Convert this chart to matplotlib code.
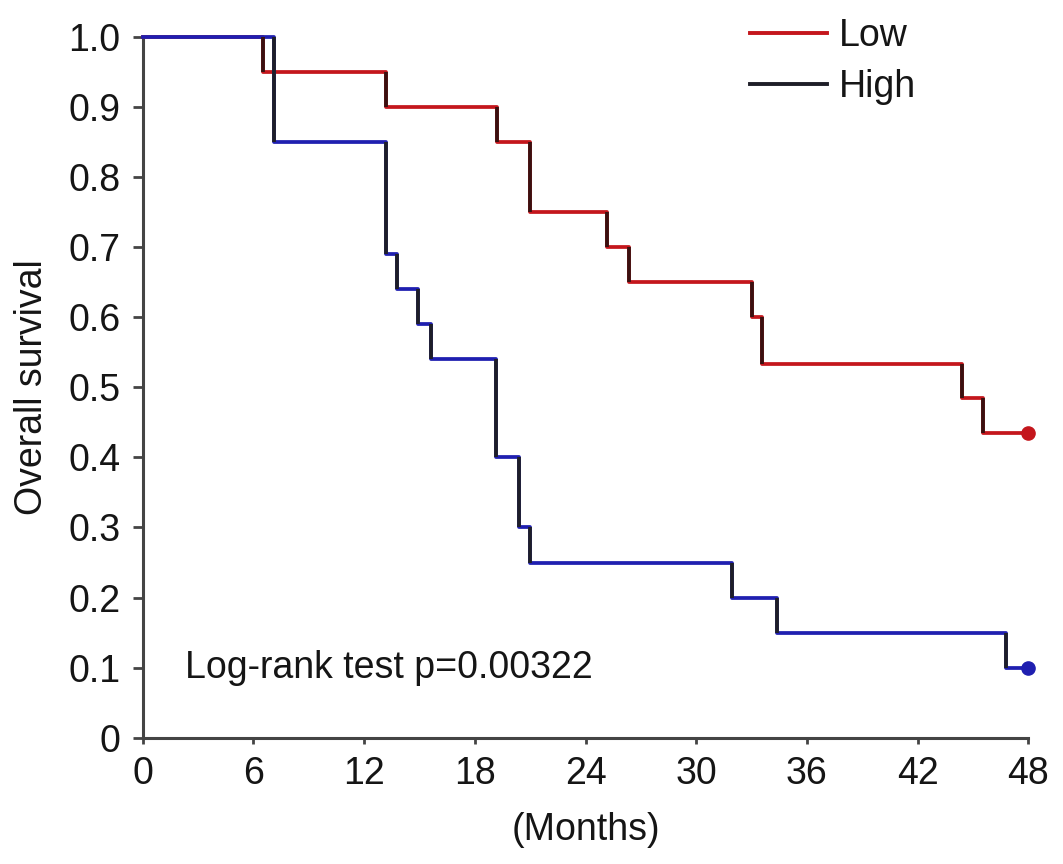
import matplotlib
matplotlib.use("Agg")
import matplotlib.pyplot as plt
from matplotlib.lines import Line2D
import numpy as np

plt.rcParams['font.family'] = ['Liberation Sans', 'DejaVu Sans']

# Kaplan-Meier steps (months, survival after the drop)
low_times = [0, 6.54, 13.19, 19.19, 20.99, 25.15, 26.37, 33.01, 33.55, 44.39, 45.56, 48]
low_surv = [1.0, 0.95, 0.90, 0.85, 0.75, 0.70, 0.65, 0.60, 0.533, 0.485, 0.435, 0.435]

high_times = [0, 7.12, 13.19, 13.77, 14.94, 15.63, 19.15, 20.40, 20.99, 31.96, 34.36, 46.79, 48]
high_surv = [1.0, 0.85, 0.69, 0.64, 0.59, 0.54, 0.40, 0.30, 0.25, 0.20, 0.15, 0.10, 0.10]

xticks = [0, 6, 12, 18, 24, 30, 36, 42, 48]
yticks = [0, 0.1, 0.2, 0.3, 0.4, 0.5, 0.6, 0.7, 0.8, 0.9, 1.0]
ytick_labels = ['0', '0.1', '0.2', '0.3', '0.4', '0.5', '0.6', '0.7', '0.8', '0.9', '1.0']

p_text = 'Log-rank test p=0.00322'

RED = '#c4161c'
BLUE = '#1f1fb0'
DARK = '#1e1e28'
FS = 27


def km_curve(ax, t, s, color, edge):
    ax.step(t, s, where='post', color=color, lw=2.7, clip_on=False, zorder=3)
    # drop segments appear darker in the original
    for i in range(1, len(t) - 1):
        ax.vlines(t[i], s[i], s[i - 1], color=edge, lw=2.7, zorder=4, clip_on=False)
    ax.plot(t[-1], s[-1], 'o', color=color, ms=9.5, clip_on=False, zorder=5)


fig = plt.figure(figsize=(10.63, 8.64), dpi=100)
ax = fig.add_axes([0.1342, 0.1462, 0.8332, 0.811])

km_curve(ax, low_times, low_surv, RED, '#3a1010')
km_curve(ax, high_times, high_surv, BLUE, DARK)

ax.set_xlim(0, 48)
ax.set_ylim(0, 1.0)
ax.set_xticks(xticks)
ax.set_yticks(yticks)
ax.set_yticklabels(ytick_labels)

for side in ['top', 'right']:
    ax.spines[side].set_visible(False)
for side in ['left', 'bottom']:
    ax.spines[side].set_color('#444444')
    ax.spines[side].set_linewidth(2.2)

ax.tick_params(axis='y', direction='out', length=7, width=2, color='#444444',
               labelsize=FS, pad=9, labelcolor='#151515')
ax.tick_params(axis='x', direction='out', length=4.5, width=2, color='#444444',
               labelsize=FS, pad=9, labelcolor='#151515')

ax.set_ylabel('Overall survival', fontsize=FS, color='#151515', labelpad=13)
ax.set_xlabel('(Months)', fontsize=FS, color='#151515', labelpad=14)

ax.text(2.3, 0.1, p_text, fontsize=FS, color='#151515', va='center', ha='left')

handles = [Line2D([], [], color=RED, lw=2.8),
           Line2D([], [], color=DARK, lw=2.8)]
fig.legend(handles, ['Low', 'High'], loc='upper left',
           bbox_to_anchor=(724 / 1063, 1 + 8 / 864), frameon=False,
           fontsize=FS, handlelength=2.05, handletextpad=0.3, labelspacing=0.4,
           borderpad=0.2, labelcolor='#151515')

fig.savefig('out.png', dpi=100, facecolor='white')
